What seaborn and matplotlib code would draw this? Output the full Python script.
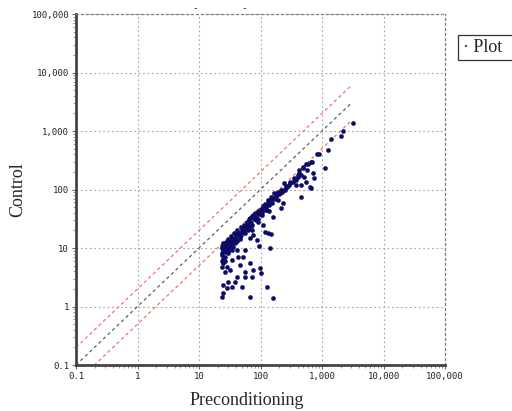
import matplotlib
matplotlib.use("Agg")
import matplotlib.pyplot as plt
import matplotlib.ticker as mticker
from matplotlib.patches import Rectangle
import seaborn as sns
import numpy as np
import pandas as pd

# ---- data ----
precond = [
    3190, 2193, 2036, 1400, 1253, 1119, 894, 829, 662, 550, 491, 422, 456, 510, 407, 378, 338,
    291, 260, 241, 215, 193, 166, 148, 132, 714, 741, 550, 456, 662, 378, 456, 232,
    688, 571, 638, 302, 270, 250, 224, 208, 185, 193, 160, 143, 132, 154, 118, 110, 128,
    98, 88, 106, 75, 67, 81, 160, 91, 110, 132, 118, 143, 67, 60, 56, 63, 73, 75, 88, 67,
    52, 50, 43, 41.5, 46, 38.5, 36, 32, 28.5, 26.5, 29.6, 34.4, 24.5, 23.7, 26.5, 29.6,
    35.7, 41.5, 43, 56, 52, 34.4, 24.5, 28.5, 23.7, 26.5, 32, 46, 67, 56, 41.5, 38.5,
    29.6, 24.5, 28.5, 56, 73, 34.4, 50, 67, 128, 160, 23.7, 24.5, 98, 75,
    102, 96, 148, 137, 215,
    24, 25, 26, 27, 28, 30, 31, 33, 35, 37, 40, 42, 45, 48, 50, 53, 56, 60, 63, 66, 70, 74,
    78, 82, 86, 90, 95, 100, 105, 110, 115, 120, 125, 27, 29, 32, 36, 40, 44, 48, 52, 58,
    64, 72, 80, 90, 24, 25, 26, 27, 24, 25, 26, 24, 30, 31, 33, 34, 38, 42, 46, 55, 62, 70,
    85, 100, 120, 140, 150, 170, 180, 200, 230, 260, 300, 350, 400, 420, 500, 600,
]
control = [
    1371, 1000, 822, 729, 473, 233, 404, 404, 295, 273, 243, 215, 177, 164, 164, 145, 134,
    119, 110, 129, 98, 91, 87, 74, 66, 191, 157, 134, 119, 106, 119, 74, 59,
    295, 215, 110, 129, 110, 98, 91, 87, 81, 66, 72, 66, 59, 59, 54, 48, 45,
    41, 40, 37, 37, 33, 33, 34, 28, 25, 18, 19, 10, 28, 27, 23, 22, 20, 16.7, 13.7, 14.8,
    20, 19, 18, 16.7, 15.4, 14.8, 13.7, 12.7, 12.2, 10.4, 10, 9.2, 9.2, 8.2, 7.0, 8.2,
    10.4, 9.2, 7.0, 9.2, 7.0, 6.2, 5.5, 4.7, 4.7, 3.9, 4.2, 5.1, 5.5, 3.9, 3.2, 2.6,
    2.6, 2.3, 2.07, 3.2, 3.2, 2.15, 2.15, 1.45, 2.15, 1.40, 1.45, 1.70, 4.5, 4.2,
    3.7, 10.8, 17.4, 43, 48,
    11, 12, 10.5, 12.5, 11.5, 14, 12.5, 16, 14, 18, 16.5, 20, 18, 23, 20, 25, 22, 28, 25, 31, 27, 35,
    31, 39, 34, 43, 38, 47, 42, 52, 46, 56, 50, 10, 11, 12, 14, 13.5, 18, 17, 21, 21,
    26, 25, 33, 31, 10, 9, 10, 8.5, 7.5, 6.5, 6, 6, 9, 10.5, 11, 12, 12, 13, 14, 18, 20, 24,
    30, 38, 45, 55, 60, 70, 78, 85, 100, 115, 135, 160, 180, 190, 230, 270,
]
diag_x = [0.1, 3000]
ratios = [2.0, 1.0, 0.5]
ratio_colors = ["#f07070", "#606060", "#f07070"]
decades = [0.1, 1, 10, 100, 1000, 10000, 100000]
tick_labels = ["0.1", "1", "10", "100", "1,000", "10,000", "100,000"]

df = pd.DataFrame({"Preconditioning": precond, "Control": control})

sns.set_style("white")
plt.rcParams["font.family"] = ["DejaVu Sans"]

fig = plt.figure(figsize=(5.12, 4.11), dpi=100)
ax = fig.add_axes([76 / 512, 46 / 411, 369 / 512, 351 / 411])
ax.set_xscale("log")
ax.set_yscale("log")
ax.set_xlim(0.1, 100000)
ax.set_ylim(0.1, 100000)

# grid
ax.grid(True, which="major", color="#a8a8a8", linestyle=(0, (1.6, 2.4)), linewidth=0.8)
ax.set_axisbelow(True)

# reference lines
for r, c in zip(ratios, ratio_colors):
    sns.lineplot(x=diag_x, y=[v * r for v in diag_x], ax=ax, color=c,
                 linestyle=(0, (2.6, 2.4)), linewidth=0.9, zorder=2)

sns.scatterplot(data=df, x="Preconditioning", y="Control", ax=ax, s=9,
                color="#0b0b70", edgecolor="#0b0b50", linewidth=0.3, zorder=3)

# spines
for side in ["left", "bottom"]:
    ax.spines[side].set_color("#444444")
    ax.spines[side].set_linewidth(2.0)
for side in ["top", "right"]:
    ax.spines[side].set_color("#808080")
    ax.spines[side].set_linewidth(0.9)
    ax.spines[side].set_linestyle((0, (1.6, 2.4)))

ax.set_xticks(decades)
ax.set_yticks(decades)
ax.set_xticklabels(tick_labels, family="DejaVu Sans Mono", fontsize=6.5, color="#222222")
ax.set_yticklabels(tick_labels, family="DejaVu Sans Mono", fontsize=6.5, color="#222222")
ax.xaxis.set_minor_locator(mticker.LogLocator(base=10, subs=np.arange(2, 10), numticks=20))
ax.yaxis.set_minor_locator(mticker.LogLocator(base=10, subs=np.arange(2, 10), numticks=20))
ax.xaxis.set_minor_formatter(mticker.NullFormatter())
ax.yaxis.set_minor_formatter(mticker.NullFormatter())
ax.tick_params(axis="both", which="major", direction="out", length=3, width=0.8,
               color="#666666", pad=2, bottom=True, left=True)
ax.tick_params(axis="both", which="minor", direction="out", length=2, width=0.6,
               color="#888888", bottom=True, left=True)

ax.set_xlabel("Preconditioning", family="Liberation Serif", fontsize=13)
ax.set_ylabel("Control", family="Liberation Serif", fontsize=13)
ax.xaxis.set_label_coords((247 - 76) / 369, (365 - 400) / 351)
ax.yaxis.set_label_coords((18 - 76) / 369, 0.5)
ax.xaxis.label.set_va("center")
ax.yaxis.label.set_va("center")

# small marks above the plot
fig.text(195 / 512, 1 - 8 / 411, "-", fontsize=7, color="#333333", ha="center", va="center")
fig.text(244 / 512, 1 - 8 / 411, "-", fontsize=7, color="#333333", ha="center", va="center")

# legend box (runs past the right edge like the reference)
fig.patches.append(Rectangle((458 / 512, 1 - 60 / 411), 60 / 512, 25 / 411,
                             transform=fig.transFigure, facecolor="white",
                             edgecolor="#333333", linewidth=0.9, clip_on=False))
fig.text(463 / 512, 1 - 47.5 / 411, "\u00b7 Plot", family="Liberation Serif", fontsize=13,
         ha="left", va="center")

fig.savefig("out.png", dpi=100)
